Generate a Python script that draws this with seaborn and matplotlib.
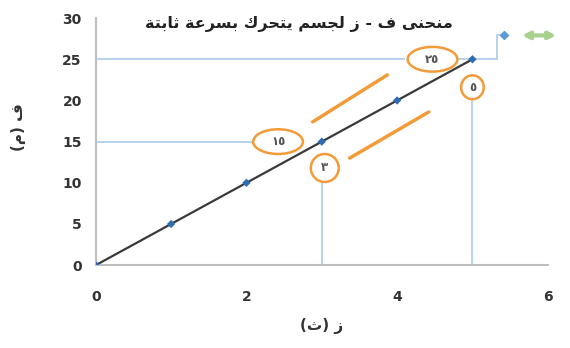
import matplotlib
matplotlib.use("Agg")
import matplotlib.pyplot as plt
from matplotlib.patches import Ellipse
import seaborn as sns
import pandas as pd

# data: distance vs time, constant speed
time_s = [0, 1, 2, 3, 4, 5]
dist_m = [0, 5, 10, 15, 20, 25]
x_ticks = [0, 2, 4, 6]
y_ticks = [0, 5, 10, 15, 20, 25, 30]

title_txt = "منحنى ف - ز لجسم يتحرك بسرعة ثابتة"
xlabel_txt = "ز (ث)"
ylabel_txt = "ف (م)"
note_labels = ["٢٥", "٥", "١٥", "٣"]

# ---- tiny arabic shaper (matplotlib has no bidi / shaping) ----
DUAL = {'ب': 0xFE8F, 'ت': 0xFE95, 'ث': 0xFE99, 'ج': 0xFE9D, 'ح': 0xFEA1, 'خ': 0xFEA5,
        'س': 0xFEB1, 'ش': 0xFEB5, 'ص': 0xFEB9, 'ض': 0xFEBD, 'ط': 0xFEC1, 'ظ': 0xFEC5,
        'ع': 0xFEC9, 'غ': 0xFECD, 'ف': 0xFED1, 'ق': 0xFED5, 'ك': 0xFED9, 'ل': 0xFEDD,
        'م': 0xFEE1, 'ن': 0xFEE5, 'ه': 0xFEE9, 'ي': 0xFEF1}
RIGHT = {'ا': 0xFE8D, 'ة': 0xFE93, 'د': 0xFEA9, 'ذ': 0xFEAB, 'ر': 0xFEAD, 'ز': 0xFEAF,
         'و': 0xFEED, 'ى': 0xFEEF}
MIRROR = {'(': ')', ')': '('}


def shape(s):
    out = []
    for i, ch in enumerate(s):
        prev = s[i - 1] if i > 0 else ''
        nxt = s[i + 1] if i + 1 < len(s) else ''
        join_prev = prev in DUAL
        join_next = ch in DUAL and (nxt in DUAL or nxt in RIGHT)
        if ch in DUAL:
            base = DUAL[ch]
            if join_prev and join_next:
                ch = chr(base + 3)
            elif join_next:
                ch = chr(base + 2)
            elif join_prev:
                ch = chr(base + 1)
            else:
                ch = chr(base)
        elif ch in RIGHT:
            ch = chr(RIGHT[ch] + (1 if join_prev else 0))
        else:
            ch = MIRROR.get(ch, ch)
        out.append(ch)
    return "".join(reversed(out))


sns.set_style("white")
plt.rcParams['font.family'] = ['DejaVu Sans']

df = pd.DataFrame({"t": time_s, "d": dist_m})

fig = plt.figure(figsize=(5.7, 3.48), dpi=100)
ax = fig.add_axes([0.168, 0.238, 0.793, 0.71])

proj = "#A9CBEA"
orange = "#F29B38"

# projection lines for (3,15) and (5,25)
ax.hlines(dist_m[3], 0, 2.1, color=proj, lw=1.2)
ax.vlines(time_s[3], 0, 10.1, color=proj, lw=1.2)
ax.hlines(dist_m[5], 0, 4.1, color=proj, lw=1.2)
ax.hlines(dist_m[5], 4.8, time_s[5], color=proj, lw=1.2)
ax.vlines(time_s[5], 0, 20.2, color=proj, lw=1.2)

sns.lineplot(data=df, x="t", y="d", color="#3a3a3a", lw=1.6, ax=ax)
sns.scatterplot(data=df, x="t", y="d", color="#2E6DB4", marker="D", s=18,
                edgecolor="none", ax=ax, zorder=5)

# leader to legend marker on the right
ax.plot([time_s[5], 5.32, 5.32, 5.45], [dist_m[5], dist_m[5], 27.9, 27.9],
        color=proj, lw=1.2, clip_on=False)
ax.plot([5.42], [27.9], marker="D", ms=4, color="#5B9BD5", clip_on=False)
ax.annotate("", xy=(6.15, 27.9), xytext=(5.62, 27.9), xycoords="data",
            arrowprops=dict(arrowstyle="<|-|>", color="#A9D18E", lw=3,
                            mutation_scale=10), annotation_clip=False)

# orange ellipses with values
notes = [(4.47, 25.0, 0.66, 3.0), (5.0, 21.6, 0.3, 2.9),
         (2.42, 15.0, 0.66, 3.0), (3.04, 11.8, 0.37, 3.4)]
for (cx, cy, w, h), lab in zip(notes, note_labels):
    ax.add_patch(Ellipse((cx, cy), w, h, fill=False, ec=orange, lw=1.8, zorder=6))
    ax.text(cx, cy, lab, ha="center", va="center", fontsize=8.5, fontweight="bold",
            color="#555", zorder=7)

# orange parallel strokes
ax.plot([2.88, 3.87], [17.4, 23.1], color=orange, lw=2.5, solid_capstyle="round")
ax.plot([3.37, 4.42], [13.0, 18.6], color=orange, lw=2.5, solid_capstyle="round")

ax.set_xlim(0, 6)
ax.set_ylim(0, 30)
ax.set_xticks(x_ticks)
ax.set_yticks(y_ticks)
ax.tick_params(axis="y", labelsize=10, colors="#333", length=0, pad=10)
ax.tick_params(axis="x", labelsize=10, colors="#333", length=0, pad=18)
for lbl in ax.get_xticklabels() + ax.get_yticklabels():
    lbl.set_fontweight("bold")
for sp in ["top", "right"]:
    ax.spines[sp].set_visible(False)
for sp in ["left", "bottom"]:
    ax.spines[sp].set_color("#BFBFBF")
    ax.spines[sp].set_linewidth(1.5)

ax.set_xlabel(shape(xlabel_txt), fontsize=11, fontweight="bold", color="#333", labelpad=10)
ax.set_ylabel(shape(ylabel_txt), fontsize=11, fontweight="bold", color="#333")
ax.yaxis.set_label_coords(-0.155, 0.56)
fig.text(0.525, 0.93, shape(title_txt), ha="center", va="center",
         fontsize=11.5, fontweight="bold", color="#222")

fig.savefig("out.png", dpi=100, facecolor="white")
